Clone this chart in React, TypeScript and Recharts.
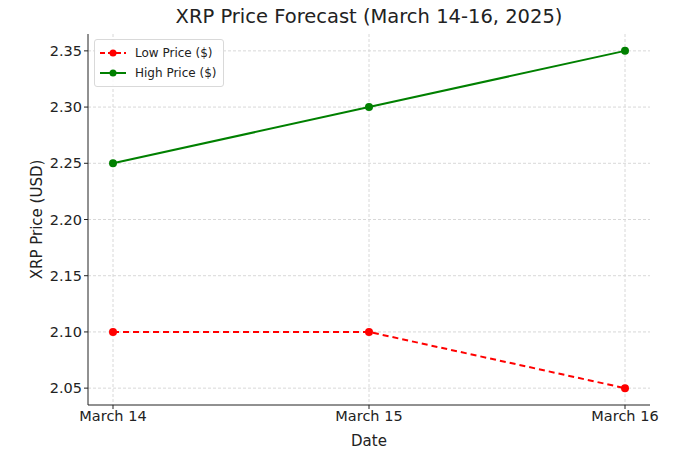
import React from "react";
import { LineChart, Line, XAxis, YAxis, CartesianGrid, Label } from "recharts";

const dates = ["March 14", "March 15", "March 16"];
const lowPrices = [2.1, 2.1, 2.05];
const highPrices = [2.25, 2.3, 2.35];
const yTicks = [2.05, 2.1, 2.15, 2.2, 2.25, 2.3, 2.35];
const seriesNames = ["Low Price ($)", "High Price ($)"];

const data = dates.map((d, i) => ({ date: d, low: lowPrices[i], high: highPrices[i] }));

const FONT = "'DejaVu Sans', sans-serif";

const LegendBox = () => (
  <div
    style={{
      position: "absolute",
      left: 94,
      top: 39,
      border: "1px solid #d9d9d9",
      borderRadius: 3,
      background: "rgba(255,255,255,0.85)",
      padding: "3px 7px 3px 4px",
      fontFamily: FONT,
      fontSize: 12,
      color: "#222",
      lineHeight: "20px",
    }}
  >
    {[
      { label: seriesNames[0], color: "red", dash: "5 3" },
      { label: seriesNames[1], color: "green", dash: undefined },
    ].map((it) => (
      <div key={it.label} style={{ display: "flex", alignItems: "center" }}>
        <svg width={28} height={12} style={{ marginRight: 8 }}>
          <line x1={1} y1={6} x2={27} y2={6} stroke={it.color} strokeWidth={2} strokeDasharray={it.dash} />
          <circle cx={14} cy={6} r={3.5} fill={it.color} />
        </svg>
        <span>{it.label}</span>
      </div>
    ))}
  </div>
);

export default function App() {
  return (
    <div style={{ position: "absolute", left: 0, top: 0, width: 680, height: 453, background: "#fff" }}>
      <LineChart width={680} height={453} data={data} margin={{ top: 34, right: 30, bottom: 0, left: 28 }}>
        <CartesianGrid stroke="#d8d8d8" strokeDasharray="3 2" syncWithTicks />
        <XAxis
          dataKey="date"
          padding={{ left: 25, right: 25 }}
          height={48}
          stroke="#222"
          tickLine={{ stroke: "#222" }}
          tickSize={4}
          tick={{ fill: "#222", fontSize: 14.5, fontFamily: FONT }}
          interval={0}
        >
          <Label value="Date" position="insideBottom" offset={7} style={{ fill: "#222", fontSize: 15, fontFamily: FONT }} />
        </XAxis>
        <YAxis
          domain={[2.035, 2.365]}
          ticks={yTicks}
          tickFormatter={(v: number) => v.toFixed(2)}
          width={60}
          stroke="#222"
          tickSize={4}
          tick={{ fill: "#222", fontSize: 14.5, fontFamily: FONT }}
          allowDataOverflow
        >
          <Label
            value="XRP Price (USD)"
            angle={-90}
            position="insideLeft"
            offset={9}
            style={{ textAnchor: "middle", fill: "#222", fontSize: 15, fontFamily: FONT }}
          />
        </YAxis>
        <Line
          type="linear"
          dataKey="low"
          name={seriesNames[0]}
          stroke="red"
          strokeWidth={2}
          strokeDasharray="6 4"
          dot={{ r: 4, fill: "red", stroke: "red", strokeWidth: 0 }}
          isAnimationActive={false}
        />
        <Line
          type="linear"
          dataKey="high"
          name={seriesNames[1]}
          stroke="green"
          strokeWidth={2}
          dot={{ r: 4, fill: "green", stroke: "green", strokeWidth: 0 }}
          isAnimationActive={false}
        />
      </LineChart>
      <div
        style={{
          position: "absolute",
          left: 88,
          width: 562,
          top: 5,
          textAlign: "center",
          fontFamily: FONT,
          fontSize: 19.5,
          color: "#222",
        }}
      >
        XRP Price Forecast (March 14-16, 2025)
      </div>
      <LegendBox />
    </div>
  );
}
